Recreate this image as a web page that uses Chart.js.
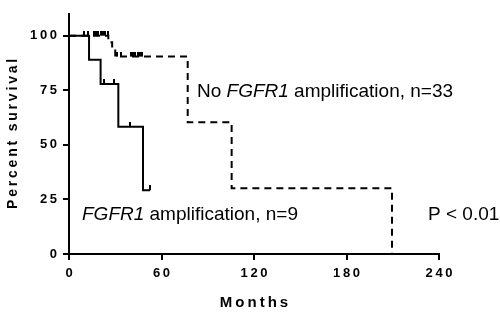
<!DOCTYPE html>
<html>
<head>
<meta charset="utf-8">
<script src="https://cdn.jsdelivr.net/npm/chart.js@4.4.1/dist/chart.umd.min.js"></script>
<style>
  html, body { margin: 0; padding: 0; background: #fff; }
  #wrap { width: 500px; height: 315px; }
</style>
</head>
<body>
<div id="wrap"><canvas id="km"></canvas></div>
<script>
// FGFR1 amplification (n=9): months where survival steps, survival (%) after step
const ampTimes = [0, 13, 20.5, 32, 48, 52.5];
const ampSurv = [100, 88.9, 77.8, 58.3, 29.2, 29.2];
const ampCensorTimes = [23, 29, 39.5, 52.5];
const ampCensorSurv = [77.8, 77.8, 58.3, 29.2];

// No FGFR1 amplification (n=33)
const noAmpTimes = [0, 25.5, 28, 30, 77, 105.5, 209.5];
const noAmpSurv = [100, 97, 93.8, 90.4, 60.3, 30.1, 0];
const noAmpCensorTimes = [9.5, 12.5, 16, 17.5, 19, 20.5, 22, 23.5, 25, 31, 33.5, 40, 41.5, 43, 44.5, 46, 47.5];
const noAmpCensorSurv = [100, 100, 100, 100, 100, 100, 100, 100, 100, 90.4, 90.4, 90.4, 90.4, 90.4, 90.4, 90.4, 90.4];

const xTicks = [0, 60, 120, 180, 240];
const yTicks = [0, 25, 50, 75, 100];

const FONT = "'Liberation Sans', Arial, sans-serif";

function pts(xs, ys) {
    return xs.map((x, i) => ({ x: x, y: ys[i] }));
}

// little upward tick used as the censor mark
const censorMark = document.createElement('canvas');
censorMark.width = 2;
censorMark.height = 10;
(function () {
    const c = censorMark.getContext('2d');
    c.fillStyle = '#000';
    c.fillRect(0, 0, 2, 5);
})();

function spaced(s) {
    return String(s).split('').join('\u2009');
}

// annotation text, with italic gene name
const labels = [
    { x: 197, y: 92, runs: [['No ', false], ['FGFR1', true], [' amplification, n=33', false]] },
    { x: 82, y: 215, runs: [['FGFR1', true], [' amplification, n=9', false]] },
    { x: 428, y: 215, runs: [['P < 0.01', false]] }
];

const textPlugin = {
    id: 'kmText',
    afterDraw(chart) {
        const ctx = chart.ctx;
        ctx.save();
        ctx.fillStyle = '#000';
        ctx.textBaseline = 'middle';
        ctx.textAlign = 'left';
        labels.forEach(l => {
            let x = l.x;
            l.runs.forEach(r => {
                ctx.font = (r[1] ? 'italic ' : '') + '19px ' + FONT;
                ctx.fillText(r[0], x, l.y);
                x += ctx.measureText(r[0]).width;
            });
        });
        ctx.restore();
    }
};

const ctx = document.getElementById('km').getContext('2d');
const kmChart = new Chart(ctx, {
    type: 'line',
    data: {
        datasets: [
            {
                data: pts(ampTimes, ampSurv),
                stepped: 'before',
                borderColor: '#000',
                borderWidth: 2,
                pointRadius: 0,
                fill: false
            },
            {
                data: pts(noAmpTimes, noAmpSurv),
                stepped: 'before',
                borderColor: '#000',
                borderWidth: 2,
                borderDash: [7, 5],
                pointRadius: 0,
                fill: false
            },
            {
                data: pts(ampCensorTimes, ampCensorSurv),
                showLine: false,
                pointStyle: censorMark,
                pointRadius: 3
            },
            {
                data: pts(noAmpCensorTimes, noAmpCensorSurv),
                showLine: false,
                pointStyle: censorMark,
                pointRadius: 3
            }
        ]
    },
    options: {
        responsive: true,
        maintainAspectRatio: false,
        animation: false,
        devicePixelRatio: 1,
        layout: { padding: { left: 0, right: 61, top: 5, bottom: 0 } },
        plugins: {
            legend: { display: false },
            tooltip: { enabled: false }
        },
        scales: {
            x: {
                type: 'linear',
                min: 0,
                max: 240,
                afterBuildTicks: axis => { axis.ticks = xTicks.map(v => ({ value: v })); },
                afterFit: scale => { scale.height = 61; },
                border: { display: true, color: '#000', width: 2 },
                grid: { drawOnChartArea: false, drawTicks: true, tickLength: 6, color: '#000', lineWidth: 2 },
                ticks: {
                    color: '#000',
                    padding: 6,
                    maxRotation: 0,
                    font: { family: FONT, size: 13, weight: 'bold' },
                    callback: v => spaced(v)
                },
                title: {
                    display: true,
                    text: spaced('Months'),
                    color: '#000',
                    font: { family: FONT, size: 15, weight: 'bold' },
                    padding: { top: 0, bottom: 3 }
                }
            },
            y: {
                type: 'linear',
                min: 0,
                max: 110,
                afterBuildTicks: axis => { axis.ticks = yTicks.map(v => ({ value: v })); },
                afterFit: scale => { scale.width = 69; },
                border: { display: true, color: '#000', width: 2 },
                grid: { drawOnChartArea: false, drawTicks: true, tickLength: 6, color: '#000', lineWidth: 2 },
                ticks: {
                    color: '#000',
                    padding: 6,
                    font: { family: FONT, size: 13, weight: 'bold' },
                    callback: v => spaced(v)
                },
                title: {
                    display: true,
                    text: spaced('Percent survival'),
                    color: '#000',
                    font: { family: FONT, size: 14, weight: 'bold' },
                    padding: { top: 5, bottom: 0 }
                }
            }
        }
    },
    plugins: [textPlugin]
});
</script>
</body>
</html>
